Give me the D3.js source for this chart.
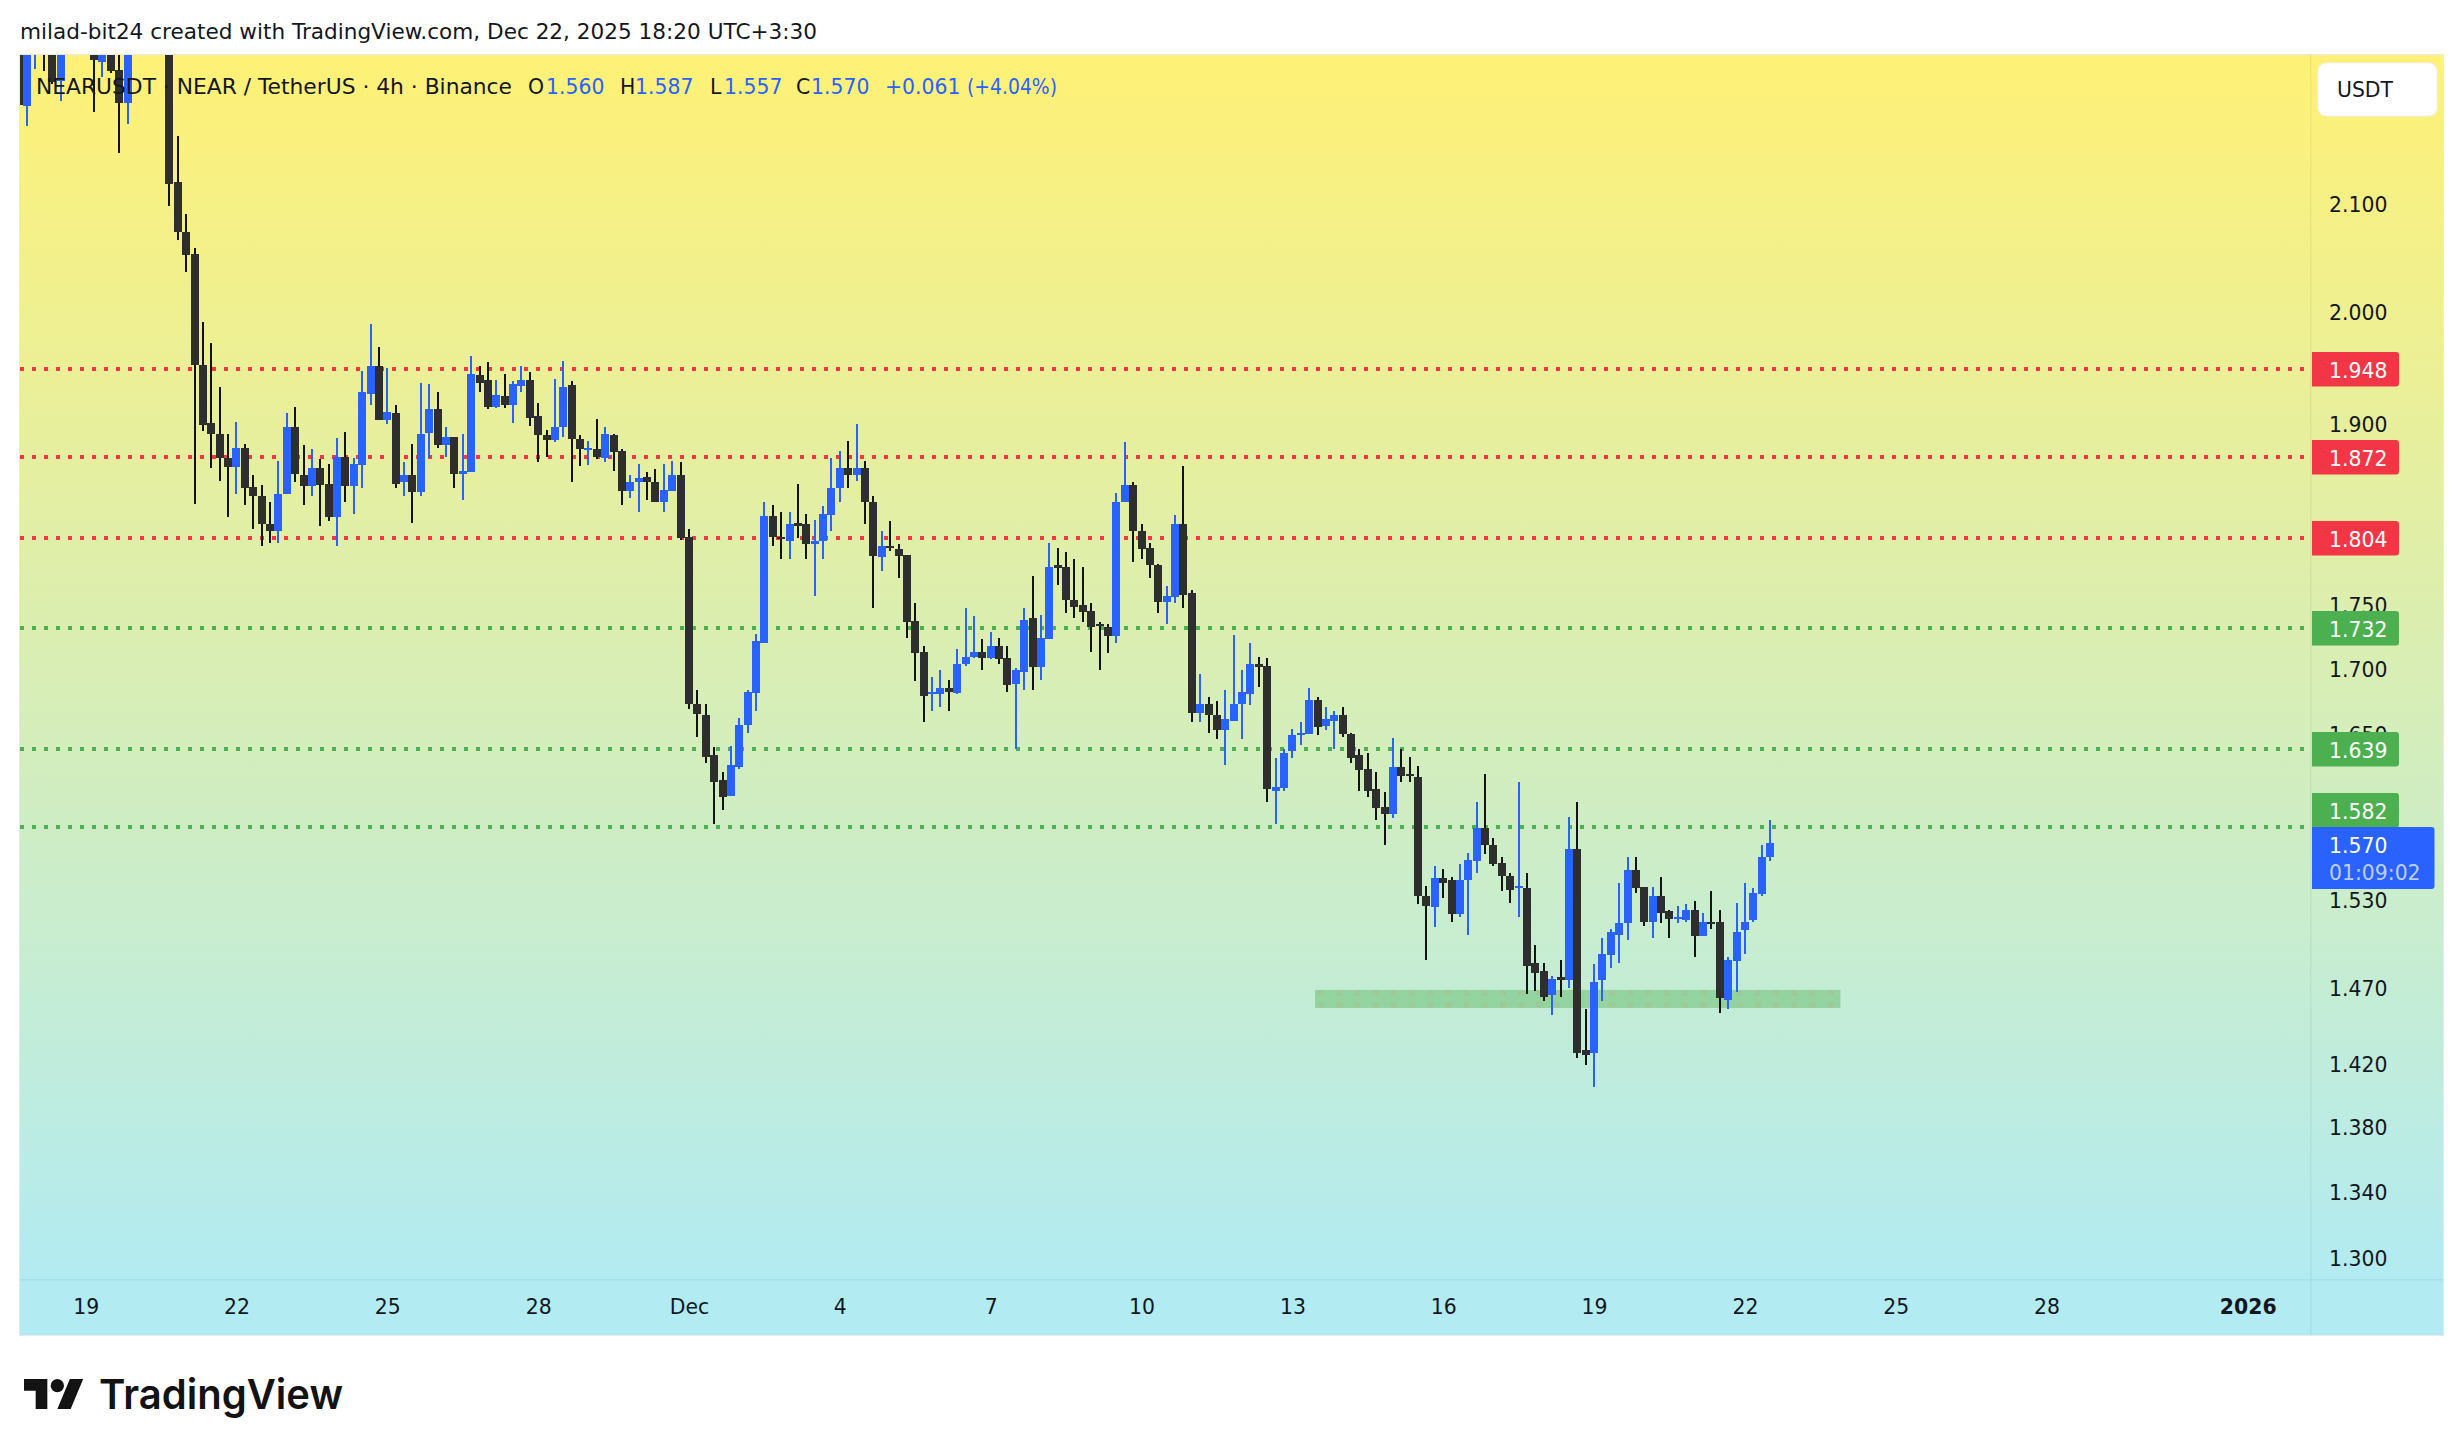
<!DOCTYPE html>
<html><head><meta charset="utf-8">
<script src="https://cdn.jsdelivr.net/npm/d3@7"></script>
<style>html,body{margin:0;padding:0;background:#fff}svg{display:block}text{font-family:"DejaVu Sans",sans-serif}</style>
</head><body><div id="c"></div>
<script>
// Candle data: 4h NEARUSDT bars, oldest first
const opens=[
2.283,2.196,2.255,2.290,2.300,2.221,2.270,2.280,2.270,2.280,
2.240,2.280,2.232,2.199,2.270,2.290,2.310,2.300,2.290,2.121,
2.073,2.053,1.952,1.901,1.891,1.871,1.863,1.879,1.846,1.839,
1.815,1.810,1.840,1.897,1.856,1.847,1.862,1.849,1.821,1.872,
1.847,1.865,1.926,1.951,1.903,1.909,1.850,1.856,1.842,1.892,
1.913,1.882,1.889,1.857,1.859,1.943,1.938,1.915,1.924,1.916,
1.933,1.938,1.907,1.890,1.886,1.897,1.934,1.887,1.878,1.878,
1.871,1.890,1.877,1.843,1.850,1.855,1.850,1.834,1.843,1.856,
1.805,1.673,1.664,1.634,1.616,1.604,1.625,1.657,1.681,1.720,
1.822,1.805,1.801,1.816,1.815,1.799,1.801,1.823,1.845,1.862,
1.856,1.862,1.834,1.788,1.797,1.795,1.790,1.737,1.713,1.680,
1.680,1.685,1.681,1.703,1.709,1.713,1.708,1.717,1.708,1.688,
1.697,1.739,1.701,1.723,1.782,1.780,1.754,1.750,1.745,1.735,
1.732,1.725,1.834,1.848,1.810,1.796,1.782,1.752,1.756,1.815,
1.759,1.666,1.673,1.664,1.653,1.660,1.673,1.680,1.703,1.702,
1.608,1.610,1.637,1.649,1.650,1.676,1.656,1.660,1.664,1.650,
1.634,1.624,1.609,1.596,1.591,1.625,1.620,1.618,1.533,1.525,
1.545,1.544,1.520,1.544,1.557,1.581,1.569,1.556,1.547,1.538,
1.538,1.487,1.481,1.465,1.477,1.475,1.566,1.429,1.427,1.475,
1.492,1.506,1.514,1.551,1.539,1.515,1.533,1.522,1.517,1.516,
1.523,1.505,1.515,1.515,1.462,1.488,1.509,1.516,1.534,1.560];
const highs=[
2.293,2.270,2.300,2.300,2.310,2.280,2.290,2.300,2.290,2.290,
2.290,2.290,2.270,2.270,2.310,2.330,2.330,2.320,2.300,2.166,
2.090,2.058,1.990,1.971,1.932,1.891,1.902,1.883,1.856,1.848,
1.834,1.868,1.909,1.915,1.882,1.878,1.870,1.866,1.888,1.893,
1.871,1.946,1.988,1.968,1.949,1.916,1.867,1.883,1.936,1.935,
1.928,1.897,1.889,1.891,1.960,1.951,1.954,1.938,1.944,1.937,
1.951,1.945,1.918,1.895,1.939,1.955,1.937,1.890,1.885,1.904,
1.897,1.891,1.878,1.856,1.866,1.859,1.861,1.866,1.868,1.867,
1.811,1.683,1.673,1.640,1.622,1.641,1.662,1.683,1.727,1.834,
1.831,1.825,1.825,1.849,1.824,1.819,1.830,1.871,1.877,1.885,
1.900,1.868,1.839,1.810,1.818,1.799,1.790,1.751,1.717,1.693,
1.699,1.691,1.715,1.747,1.741,1.723,1.728,1.724,1.717,1.700,
1.747,1.773,1.742,1.800,1.796,1.792,1.787,1.780,1.751,1.736,
1.735,1.841,1.884,1.850,1.815,1.800,1.783,1.765,1.823,1.864,
1.762,1.696,1.678,1.675,1.683,1.726,1.699,1.720,1.709,1.708,
1.632,1.639,1.654,1.659,1.685,1.678,1.670,1.667,1.670,1.651,
1.639,1.636,1.622,1.607,1.647,1.639,1.633,1.626,1.540,1.554,
1.552,1.546,1.555,1.563,1.600,1.620,1.574,1.560,1.549,1.614,
1.549,1.499,1.487,1.478,1.489,1.589,1.600,1.456,1.486,1.504,
1.510,1.542,1.560,1.560,1.539,1.539,1.546,1.523,1.526,1.527,
1.529,1.521,1.536,1.523,1.491,1.528,1.542,1.538,1.569,1.587];
const lows=[
2.197,2.176,2.233,2.231,2.218,2.201,2.260,2.260,2.260,2.190,
2.225,2.229,2.149,2.178,2.260,2.280,2.280,2.270,2.098,2.066,
2.036,1.832,1.894,1.862,1.851,1.821,1.840,1.831,1.811,1.797,
1.800,1.800,1.840,1.850,1.831,1.839,1.814,1.818,1.797,1.834,
1.824,1.845,1.916,1.903,1.900,1.845,1.839,1.816,1.839,1.871,
1.879,1.872,1.845,1.835,1.859,1.928,1.913,1.914,1.914,1.901,
1.928,1.898,1.867,1.872,1.884,1.889,1.850,1.864,1.865,1.870,
1.867,1.860,1.831,1.837,1.825,1.835,1.834,1.825,1.843,1.802,
1.669,1.648,1.628,1.584,1.594,1.604,1.624,1.651,1.667,1.720,
1.797,1.787,1.787,1.804,1.787,1.757,1.787,1.810,1.834,1.845,
1.851,1.815,1.747,1.777,1.793,1.771,1.724,1.690,1.659,1.667,
1.670,1.667,1.680,1.702,1.708,1.699,1.707,1.703,1.682,1.639,
1.683,1.683,1.691,1.723,1.766,1.743,1.739,1.736,1.713,1.699,
1.712,1.720,1.834,1.784,1.787,1.771,1.743,1.735,1.751,1.747,
1.659,1.659,1.651,1.646,1.627,1.660,1.646,1.672,1.686,1.600,
1.584,1.608,1.632,1.642,1.650,1.649,1.653,1.639,1.648,1.628,
1.608,1.603,1.587,1.569,1.588,1.614,1.614,1.527,1.489,1.511,
1.531,1.515,1.518,1.506,1.549,1.562,1.554,1.536,1.528,1.518,
1.466,1.468,1.461,1.452,1.464,1.470,1.424,1.419,1.405,1.461,
1.483,1.487,1.502,1.535,1.512,1.504,1.514,1.504,1.514,1.515,
1.491,1.505,1.510,1.453,1.456,1.467,1.493,1.515,1.533,1.557];
const closes=[
2.197,2.260,2.285,2.255,2.220,2.270,2.280,2.270,2.280,2.242,
2.280,2.231,2.199,2.260,2.290,2.310,2.300,2.290,2.119,2.073,
2.052,1.952,1.899,1.891,1.871,1.863,1.879,1.845,1.839,1.815,
1.810,1.840,1.897,1.857,1.847,1.862,1.848,1.821,1.872,1.847,
1.866,1.928,1.951,1.903,1.910,1.849,1.856,1.842,1.891,1.913,
1.882,1.889,1.857,1.860,1.944,1.936,1.915,1.925,1.916,1.935,
1.938,1.905,1.890,1.886,1.897,1.932,1.887,1.878,1.879,1.872,
1.891,1.876,1.843,1.850,1.854,1.850,1.834,1.844,1.856,1.804,
1.673,1.665,1.633,1.614,1.603,1.627,1.657,1.682,1.721,1.822,
1.805,1.803,1.815,1.814,1.799,1.801,1.824,1.845,1.862,1.856,
1.862,1.834,1.789,1.797,1.796,1.789,1.736,1.712,1.679,1.682,
1.685,1.682,1.703,1.709,1.713,1.708,1.717,1.707,1.687,1.699,
1.738,1.701,1.724,1.780,1.779,1.754,1.748,1.744,1.732,1.733,
1.725,1.834,1.848,1.810,1.795,1.782,1.752,1.757,1.815,1.758,
1.666,1.673,1.664,1.653,1.661,1.673,1.682,1.703,1.701,1.609,
1.611,1.636,1.649,1.651,1.676,1.655,1.661,1.664,1.650,1.632,
1.623,1.608,1.595,1.591,1.625,1.619,1.619,1.533,1.526,1.545,
1.542,1.520,1.544,1.558,1.581,1.569,1.555,1.547,1.537,1.540,
1.485,1.480,1.464,1.476,1.475,1.566,1.427,1.426,1.474,1.493,
1.508,1.514,1.551,1.538,1.515,1.533,1.521,1.517,1.518,1.523,
1.505,1.515,1.513,1.463,1.489,1.508,1.515,1.535,1.560,1.570];

const priceTicks=[2.1,2.0,1.9,1.75,1.7,1.65,1.53,1.47,1.42,1.38,1.34,1.3];
const timeLabels=["19","22","25","28","Dec","4","7","10","13","16","19","22","25","28","2026"];
const timeBars=[8,26,44,62,80,98,116,134,152,170,188,206,224,242,266];
const redLevels=[1.948,1.872,1.804];
const greenLevels=[1.732,1.639,1.582];
const zonePrices=[1.4686,1.4566];
const zoneDotPrices=[1.4665,1.4586];
const zoneBars=[154.7,217.4];
const lastPrice=1.570;
const countdown="01:09:02";

const W=2463,H=1456;
const paneL=20,paneR=2311,paneT=55,paneB=1279,frameR=2443,frameB=1335;
const BLUE="#2962FF",BLACK="#2E2E2E",WICK="#131313",RED="#F23645",GREEN="#4CAF50",INK="#131722";
const FS=20.4;

const x=d3.scaleLinear().domain([0,266]).range([18.6,2247.7]);
const y=d3.scaleLog().domain([2.2472,1.2876]).range([paneT,paneB]);
const ly=v=>Math.round(y(v)+0.3);

const svg=d3.select("#c").append("svg").attr("width",W).attr("height",H);
const defs=svg.append("defs");
const g=defs.append("linearGradient").attr("id","bg").attr("gradientUnits","userSpaceOnUse")
  .attr("x1",0).attr("x2",0).attr("y1",paneT).attr("y2",paneB);
g.append("stop").attr("offset",0).attr("stop-color","#FFF176");
g.append("stop").attr("offset",1).attr("stop-color","#B2EBF2");
defs.append("clipPath").attr("id","pane").append("rect").attr("x",paneL).attr("y",paneT).attr("width",paneR-paneL).attr("height",paneB-paneT);

svg.append("rect").attr("width",W).attr("height",H).attr("fill","#fff");
svg.append("rect").attr("x",paneL-1).attr("y",paneT-1).attr("width",frameR-paneL+2).attr("height",frameB-paneT+2).attr("fill","#E6E8EE");
svg.append("rect").attr("x",paneL).attr("y",paneT).attr("width",frameR-paneL).attr("height",frameB-paneT).attr("fill","url(#bg)");
svg.append("rect").attr("x",paneR-1).attr("y",paneT).attr("width",1.5).attr("height",frameB-paneT).attr("fill","#131722").attr("opacity",.05);
svg.append("rect").attr("x",paneL).attr("y",paneB).attr("width",frameR-paneL).attr("height",1.5).attr("fill","#131722").attr("opacity",.05);

// header
svg.append("text").attr("x",20).attr("y",31.5).attr("dy",".35em").attr("font-size",FS).attr("fill",INK)
  .attr("textLength",797).attr("lengthAdjust","spacingAndGlyphs")
  .text("milad-bit24 created with TradingView.com, Dec 22, 2025 18:20 UTC+3:30");

const plot=svg.append("g").attr("clip-path","url(#pane)");

// levels
const levels=redLevels.map(v=>({v,c:RED})).concat(greenLevels.map(v=>({v,c:GREEN})));
plot.selectAll("line.lv").data(levels).join("line").attr("class","lv")
  .attr("x1",paneL).attr("x2",2304).attr("y1",d=>ly(d.v)).attr("y2",d=>ly(d.v))
  .attr("stroke",d=>d.c).attr("stroke-width",4).attr("stroke-dasharray","4 8");

// zone
plot.append("rect").attr("x",x(zoneBars[0])).attr("width",x(zoneBars[1])-x(zoneBars[0]))
  .attr("y",y(zonePrices[0])).attr("height",y(zonePrices[1])-y(zonePrices[0]))
  .attr("fill",GREEN).attr("opacity",.4);
plot.selectAll("line.zd").data(zoneDotPrices).join("line").attr("class","zd")
  .attr("x1",x(zoneBars[0])+3).attr("x2",x(zoneBars[1])).attr("y1",d=>y(d)).attr("y2",d=>y(d))
  .attr("stroke","#C8AA6E").attr("stroke-opacity",.22).attr("stroke-width",5).attr("stroke-dasharray","6 12.2");

// candles
const bars=d3.range(opens.length).map(i=>({i,o:opens[i],h:highs[i],l:lows[i],c:closes[i]}));
const cg=plot.selectAll("g.c").data(bars).join("g").attr("class","c");
cg.append("rect").attr("x",d=>Math.round(x(d.i))-1).attr("width",2)
  .attr("y",d=>Math.round(y(d.h))).attr("height",d=>Math.max(1,Math.round(y(d.l))-Math.round(y(d.h))))
  .attr("fill",d=>d.c>=d.o?BLUE:WICK);
cg.append("rect").attr("x",d=>Math.round(x(d.i))-4).attr("width",8)
  .attr("y",d=>Math.round(y(Math.max(d.o,d.c))))
  .attr("height",d=>Math.max(2,Math.round(y(Math.min(d.o,d.c)))-Math.round(y(Math.max(d.o,d.c)))))
  .attr("fill",d=>d.c>=d.o?BLUE:BLACK);

// legend
const lg=[["NEARUSDT · NEAR / TetherUS · 4h · Binance",36,INK,476],["O",528,INK],["1.560",546,BLUE],["H",620,INK],["1.587",635,BLUE],["L",710,INK],["1.557",724,BLUE],["C",796,INK],["1.570",811,BLUE],["+0.061",885,BLUE],["(+4.04%)",967,BLUE,90]];
svg.selectAll("text.lg").data(lg).join("text").attr("class","lg").attr("x",d=>d[1]).attr("y",87).attr("dy",".35em")
  .attr("font-size",FS).attr("fill",d=>d[2]).each(function(d){
    if(d[3]) d3.select(this).attr("textLength",d[3]).attr("lengthAdjust","spacingAndGlyphs");
  }).text(d=>d[0]);

// price axis
const ya=svg.append("g").attr("transform",`translate(2329,1.5)`)
  .call(d3.axisRight(y).tickValues(priceTicks).tickSize(0).tickPadding(0).tickFormat(d3.format(".3f")));
ya.select(".domain").remove();
ya.selectAll("text").attr("font-size",FS).attr("fill",INK);

// time axis
const xa=svg.append("g").attr("transform",`translate(0,${paneB})`)
  .call(d3.axisBottom(x).tickValues(timeBars).tickSize(0).tickPadding(0).tickFormat((d,i)=>timeLabels[i]));
xa.select(".domain").remove();
xa.selectAll("text").attr("font-size",FS).attr("fill",INK)
  .attr("y",27.5).attr("dy",".35em").attr("font-weight",d=>d===266?"700":"400");

// level labels
function tag(cx,top,w,h){
  return `M${cx} ${top}H${cx+w-3}Q${cx+w} ${top} ${cx+w} ${top+3}V${top+h-3}Q${cx+w} ${top+h} ${cx+w-3} ${top+h}H${cx}Z`;
}
const labelShift={1.582:-17};
levels.forEach(d=>{
  const cy=ly(d.v)+(labelShift[d.v]||0);
  svg.append("path").attr("d",tag(2312,cy-17,87,34.5)).attr("fill",d.c);
  svg.append("text").attr("x",2329).attr("y",cy+1.5).attr("dy",".36em").attr("font-size",FS).attr("font-weight",500)
    .attr("fill","#fff").text(d.v.toFixed(3));
});
// last price
const lastTop=827;
svg.append("path").attr("d",tag(2312,lastTop,122.5,62)).attr("fill",BLUE);
svg.append("text").attr("x",2329).attr("y",846).attr("dy",".36em").attr("font-size",FS).attr("fill","#fff").text(lastPrice.toFixed(3));
svg.append("text").attr("x",2329).attr("y",873).attr("dy",".36em").attr("font-size",FS).attr("fill","#fff").attr("fill-opacity",.7).text(countdown);

// currency button
svg.append("rect").attr("x",2318).attr("y",63).attr("width",119).attr("height",53).attr("rx",8).attr("fill","#fff").attr("stroke","#EEF0F3");
svg.append("text").attr("x",2337).attr("y",89.5).attr("dy",".36em").attr("font-size",FS).attr("fill",INK).text("USDT");

// logo
const logo=svg.append("g").attr("transform","translate(24,1372.3) scale(1.667)").attr("fill","#131313");
logo.append("path").attr("d","M14 22H7V11H0V4h14v18zM28 22h-8l7.5-18h8L28 22z");
logo.append("circle").attr("cx",20).attr("cy",8).attr("r",4);
svg.append("text").attr("x",99).attr("y",1409).attr("font-size",41).attr("font-weight",600)
  .style("font-family","Inter,sans-serif").attr("fill","#131313").attr("textLength",244).attr("lengthAdjust","spacingAndGlyphs").text("TradingView");
</script></body></html>
